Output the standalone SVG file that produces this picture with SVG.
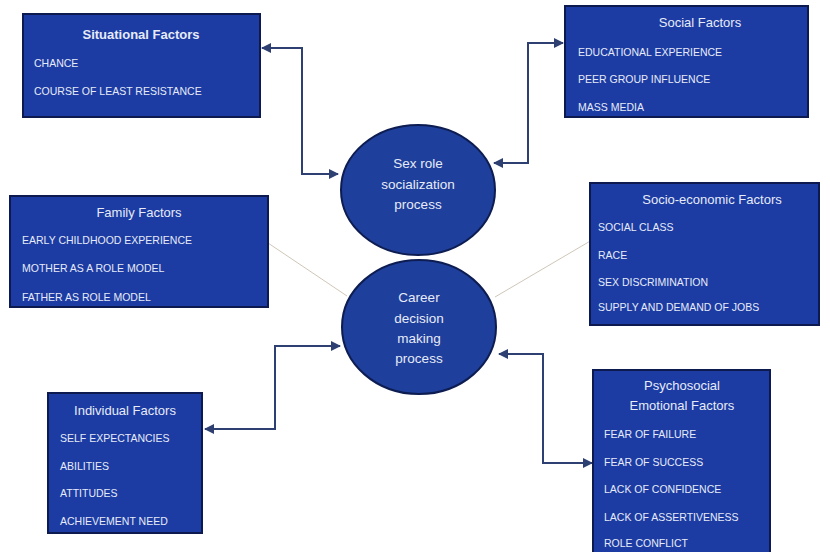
<svg xmlns="http://www.w3.org/2000/svg" width="830" height="552" viewBox="0 0 830 552">
<style>
.box{fill:#1c3ba3;stroke:#0c1a4f;stroke-width:2}
.circ{fill:#1e3f9b;stroke:#0d1d52;stroke-width:2}
.t{font-family:"Liberation Sans",Arial,sans-serif;fill:#e6ebf7}
.title{font-size:13px;text-anchor:middle}
.item{font-size:10.5px}
.ctext{font-size:13.5px;text-anchor:middle}
.conn{fill:none;stroke:#2e3f72;stroke-width:2}
.thin{fill:none;stroke:#cfc6b8;stroke-width:1}
</style>
<defs>
<marker id="ah" viewBox="0 0 10 10" refX="9" refY="5" markerWidth="5" markerHeight="5" orient="auto-start-reverse" markerUnits="strokeWidth">
<path d="M0,0 L10,5 L0,10 z" fill="#2e3f72"/>
</marker>
</defs>
<rect width="830" height="552" fill="#ffffff"/>
<g id="connectors">
<path class="conn" d="M262,48 L302,48 L302,174 L338,174" marker-start="url(#ah)" marker-end="url(#ah)"/>
<path class="conn" d="M494,163 L528,163 L528,43 L563,43" marker-start="url(#ah)" marker-end="url(#ah)"/>
<path class="conn" d="M205,429 L275,429 L275,346 L340,346" marker-start="url(#ah)" marker-end="url(#ah)"/>
<path class="conn" d="M499,354 L543,354 L543,463 L592,463" marker-start="url(#ah)" marker-end="url(#ah)"/>
<line class="thin" x1="268" y1="243" x2="347" y2="296"/>
<line class="thin" x1="592" y1="240" x2="495" y2="297"/>
</g>
<g id="situational">
<rect class="box" x="23" y="14" width="237" height="103"/>
<text class="t title" x="141" y="39" font-weight="bold">Situational Factors</text>
<text class="t item" x="34" y="67">CHANCE</text>
<text class="t item" x="34" y="95">COURSE OF LEAST RESISTANCE</text>
</g>
<g id="social">
<rect class="box" x="565" y="6" width="243" height="111"/>
<text class="t title" x="700" y="27">Social Factors</text>
<text class="t item" x="578" y="56">EDUCATIONAL EXPERIENCE</text>
<text class="t item" x="578" y="83">PEER GROUP INFLUENCE</text>
<text class="t item" x="578" y="111">MASS MEDIA</text>
</g>
<g id="family">
<rect class="box" x="10" y="196" width="258" height="111"/>
<text class="t title" x="139" y="217">Family Factors</text>
<text class="t item" x="22" y="244">EARLY CHILDHOOD EXPERIENCE</text>
<text class="t item" x="22" y="272">MOTHER AS A ROLE MODEL</text>
<text class="t item" x="22" y="301">FATHER AS ROLE MODEL</text>
</g>
<g id="socioeconomic">
<rect class="box" x="590" y="183" width="229" height="142"/>
<text class="t title" x="712" y="204">Socio-economic Factors</text>
<text class="t item" x="598" y="231">SOCIAL CLASS</text>
<text class="t item" x="598" y="259">RACE</text>
<text class="t item" x="598" y="286">SEX DISCRIMINATION</text>
<text class="t item" x="598" y="311">SUPPLY AND DEMAND OF JOBS</text>
</g>
<g id="individual">
<rect class="box" x="48" y="393" width="154" height="140"/>
<text class="t title" x="125" y="415">Individual Factors</text>
<text class="t item" x="60" y="442">SELF EXPECTANCIES</text>
<text class="t item" x="60" y="470">ABILITIES</text>
<text class="t item" x="60" y="497">ATTITUDES</text>
<text class="t item" x="60" y="525">ACHIEVEMENT NEED</text>
</g>
<g id="psychosocial">
<rect class="box" x="593" y="370" width="177" height="184"/>
<text class="t title" x="682" y="390">Psychosocial</text>
<text class="t title" x="682" y="410">Emotional Factors</text>
<text class="t item" x="604" y="438">FEAR OF FAILURE</text>
<text class="t item" x="604" y="466">FEAR OF SUCCESS</text>
<text class="t item" x="604" y="493">LACK OF CONFIDENCE</text>
<text class="t item" x="604" y="521">LACK OF ASSERTIVENESS</text>
<text class="t item" x="604" y="547">ROLE CONFLICT</text>
</g>
<g id="sexrole">
<ellipse class="circ" cx="418" cy="190" rx="77" ry="65"/>
<text class="t ctext" x="418" y="168">Sex role</text>
<text class="t ctext" x="418" y="189">socialization</text>
<text class="t ctext" x="418" y="209">process</text>
</g>
<g id="career">
<ellipse class="circ" cx="419" cy="327" rx="77" ry="67"/>
<text class="t ctext" x="419" y="302">Career</text>
<text class="t ctext" x="419" y="323">decision</text>
<text class="t ctext" x="419" y="343">making</text>
<text class="t ctext" x="419" y="363">process</text>
</g>
</svg>
